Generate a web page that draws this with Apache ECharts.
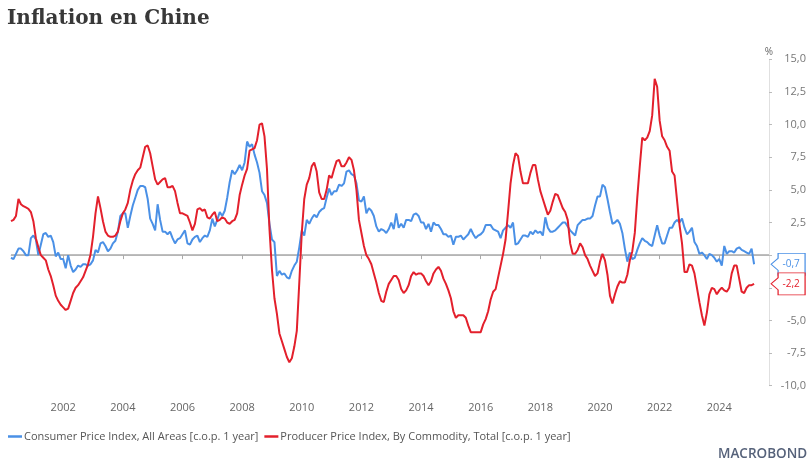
<!DOCTYPE html>
<html>
<head>
<meta charset="utf-8">
<script src="https://cdn.jsdelivr.net/npm/echarts@6/dist/echarts.min.js"></script>
<style>
  html, body { margin: 0; padding: 0; background: #fff; }
  #chart { width: 810px; height: 467px; }
</style>
</head>
<body>
<div id="chart"></div>
<script>
// first month of the series and the last month shown on the axis
var startYear = 2000, startMonth = 3;
var endYear = 2025, endMonth = 8;

// Consumer Price Index, All Areas, y/y %, monthly from 2000-03
var cpi = [
  -0.2, -0.3, 0.1, 0.5, 0.5, 0.3, 0.0, 0.0, 1.3, 1.5,            // 2000
  1.2, 0.0, 0.8, 1.6, 1.7, 1.4, 1.5, 1.0, -0.1, 0.2, -0.3, -0.3, // 2001
  -1.0, 0.0, -0.8, -1.3, -1.1, -0.8, -0.9, -0.7, -0.7, -0.8, -0.7, -0.4, // 2002
  0.4, 0.2, 0.9, 1.0, 0.7, 0.3, 0.5, 0.9, 1.1, 1.8, 3.0, 3.2,     // 2003
  3.2, 2.1, 3.0, 3.8, 4.4, 5.0, 5.3, 5.3, 5.2, 4.3, 2.8, 2.4,     // 2004
  1.9, 3.9, 2.7, 1.8, 1.8, 1.6, 1.8, 1.3, 0.9, 1.2, 1.3, 1.6,     // 2005
  1.9, 0.9, 0.8, 1.2, 1.4, 1.5, 1.0, 1.3, 1.5, 1.4, 1.9, 2.8,     // 2006
  2.2, 2.7, 3.3, 3.0, 3.4, 4.4, 5.6, 6.5, 6.2, 6.5, 6.9, 6.5,     // 2007
  7.1, 8.7, 8.3, 8.5, 7.7, 7.1, 6.3, 4.9, 4.6, 4.0, 2.4, 1.2,     // 2008
  1.0, -1.6, -1.2, -1.5, -1.4, -1.7, -1.8, -1.2, -0.8, -0.5, 0.6, 1.9, // 2009
  1.5, 2.7, 2.4, 2.8, 3.1, 2.9, 3.3, 3.5, 3.6, 4.4, 5.1, 4.6,     // 2010
  4.9, 4.9, 5.4, 5.3, 5.5, 6.4, 6.5, 6.2, 6.1, 5.5, 4.2, 4.1,     // 2011
  4.5, 3.2, 3.6, 3.4, 3.0, 2.2, 1.8, 2.0, 1.9, 1.7, 2.0, 2.5,     // 2012
  2.0, 3.2, 2.1, 2.4, 2.1, 2.7, 2.7, 2.6, 3.1, 3.2, 3.0, 2.5,     // 2013
  2.5, 2.0, 2.4, 1.8, 2.5, 2.3, 2.3, 2.0, 1.6, 1.6, 1.4, 1.5,     // 2014
  0.8, 1.4, 1.4, 1.5, 1.2, 1.4, 1.6, 2.0, 1.6, 1.3, 1.5, 1.6,     // 2015
  1.8, 2.3, 2.3, 2.3, 2.0, 1.9, 1.8, 1.3, 1.9, 2.1, 2.3, 2.1,     // 2016
  2.5, 0.8, 0.9, 1.2, 1.5, 1.5, 1.4, 1.8, 1.6, 1.9, 1.7, 1.8,     // 2017
  1.5, 2.9, 2.1, 1.8, 1.8, 1.9, 2.1, 2.3, 2.5, 2.5, 2.2, 1.9,     // 2018
  1.7, 1.5, 2.3, 2.5, 2.7, 2.7, 2.8, 2.8, 3.0, 3.8, 4.5, 4.5,     // 2019
  5.4, 5.2, 4.3, 3.3, 2.4, 2.5, 2.7, 2.4, 1.7, 0.5, -0.5, 0.2,    // 2020
  -0.3, -0.2, 0.4, 0.9, 1.3, 1.1, 1.0, 0.8, 0.7, 1.5, 2.3, 1.5,   // 2021
  0.9, 0.9, 1.5, 2.1, 2.1, 2.5, 2.7, 2.5, 2.8, 2.1, 1.6, 1.8,     // 2022
  2.1, 1.0, 0.7, 0.1, 0.2, 0.0, -0.3, 0.1, 0.0, -0.2, -0.5, -0.3, // 2023
  -0.8, 0.7, 0.1, 0.3, 0.3, 0.2, 0.5, 0.6, 0.4, 0.3, 0.2, 0.1,    // 2024
  0.5, -0.7                                                      // 2025
];

// Producer Price Index, By Commodity, Total, y/y %, monthly from 2000-03
var ppi = [
  2.6, 2.7, 3.0, 4.3, 3.9, 3.75, 3.65, 3.55, 3.3, 2.6,           // 2000
  1.3, 0.6, 0.0, -0.2, -0.4, -1.1, -1.6, -2.3, -3.1, -3.5, -3.8, -4.0, // 2001
  -4.2, -4.1, -3.5, -2.9, -2.5, -2.3, -2.0, -1.7, -1.2, -0.7, 0.05, 1.4, // 2002
  3.2, 4.5, 3.6, 2.6, 1.8, 1.5, 1.4, 1.4, 1.5, 1.8, 2.6, 3.2,     // 2003
  3.5, 4.0, 5.0, 5.7, 6.2, 6.5, 6.7, 7.5, 8.3, 8.4, 7.8, 6.8,     // 2004
  5.8, 5.4, 5.6, 5.8, 5.9, 5.2, 5.2, 5.3, 4.9, 4.0, 3.2, 3.2,     // 2005
  3.1, 3.0, 2.5, 1.9, 2.4, 3.5, 3.6, 3.4, 3.5, 2.9, 2.8, 3.1,     // 2006
  3.3, 2.6, 2.7, 2.9, 2.8, 2.5, 2.4, 2.6, 2.7, 3.2, 4.6, 5.4,     // 2007
  6.1, 6.6, 8.0, 8.1, 8.2, 8.8, 10.0, 10.1, 9.1, 6.6, 2.0, -1.1,  // 2008
  -3.3, -4.5, -6.0, -6.6, -7.2, -7.8, -8.2, -7.9, -7.0, -5.8, -2.1, 1.7, // 2009
  4.3, 5.4, 5.9, 6.8, 7.1, 6.4, 4.8, 4.3, 4.3, 5.0, 6.1, 5.9,     // 2010
  6.6, 7.2, 7.3, 6.8, 6.8, 7.1, 7.5, 7.3, 6.5, 5.0, 2.7, 1.7,     // 2011
  0.7, 0.0, -0.3, -0.7, -1.4, -2.1, -2.9, -3.5, -3.6, -2.8, -2.2, -1.9, // 2012
  -1.6, -1.6, -1.9, -2.6, -2.9, -2.7, -2.3, -1.6, -1.3, -1.5, -1.4, -1.4, // 2013
  -1.6, -2.0, -2.3, -2.0, -1.4, -1.1, -0.9, -1.2, -1.8, -2.2, -2.7, -3.3, // 2014
  -4.3, -4.8, -4.6, -4.6, -4.6, -4.8, -5.4, -5.9, -5.9, -5.9, -5.9, -5.9, // 2015
  -5.3, -4.9, -4.3, -3.4, -2.8, -2.6, -1.7, -0.8, 0.1, 1.2, 3.3, 5.5,     // 2016
  6.9, 7.8, 7.6, 6.4, 5.5, 5.5, 5.5, 6.3, 6.9, 6.9, 5.8, 4.9,     // 2017
  4.3, 3.7, 3.1, 3.4, 4.1, 4.7, 4.6, 4.1, 3.6, 3.3, 2.7, 0.9,     // 2018
  0.1, 0.1, 0.4, 0.9, 0.6, 0.0, -0.3, -0.8, -1.2, -1.6, -1.4, -0.5, // 2019
  0.1, -0.4, -1.5, -3.1, -3.7, -3.0, -2.4, -2.0, -2.1, -2.1, -1.5, -0.4, // 2020
  0.3, 1.7, 4.4, 6.8, 9.0, 8.8, 9.0, 9.5, 10.7, 13.5, 12.9, 10.3,  // 2021
  9.1, 8.8, 8.3, 8.0, 6.4, 6.1, 4.2, 2.3, 0.9, -1.3, -1.3, -0.7,   // 2022
  -0.8, -1.4, -2.5, -3.6, -4.6, -5.4, -4.4, -3.0, -2.5, -2.6, -3.0, -2.7, // 2023
  -2.5, -2.7, -2.8, -2.5, -1.4, -0.8, -0.8, -1.8, -2.8, -2.9, -2.5, -2.3, // 2024
  -2.3, -2.2                                                      // 2025
];

var labelYears = [2002, 2004, 2006, 2008, 2010, 2012, 2014, 2016, 2018, 2020, 2022, 2024];
var hiddenYLabels = [0, -2.5]; // covered by the last-value boxes

var cpiName = 'Consumer Price Index, All Areas [c.o.p. 1 year]';
var ppiName = 'Producer Price Index, By Commodity, Total [c.o.p. 1 year]';
var blue = '#4a90e6', red = '#e3202c';

// month categories; a point sits at the end of its month,
// so the December category marks 1 January of the next year
var months = [];
for (var y = startYear, m = startMonth; y < endYear || (y == endYear && m <= endMonth); m++) {
  if (m > 12) { m = 1; y++; }
  if (y == endYear && m > endMonth) break;
  months.push(y + '-' + (m < 10 ? '0' + m : m));
}

function isYearTick(index, value) {
  if (value.slice(5) != '12') return false;
  return labelYears.indexOf(+value.slice(0, 4) + 1) >= 0;
}

function fmt(v) {
  return v.toFixed(1).replace('.', ',');
}

function lastPoint(arr, color) {
  var i = arr.length - 1;
  return {
    symbol: 'path://M0,11L7,5L7,0L34,0L34,22L7,22L7,17Z',
    symbolSize: [34, 22],
    symbolOffset: [34, 0],
    itemStyle: { color: '#fff', borderColor: color, borderWidth: 1 },
    label: {
      show: true, position: 'inside', offset: [3, 0],
      color: color, fontSize: 10, fontFamily: 'Open Sans',
      formatter: function() { return fmt(arr[i]); }
    },
    data: [{ coord: [months[i], arr[i]] }]
  };
}

var chart = echarts.init(document.getElementById('chart'));

chart.setOption({
  animation: false,
  title: {
    text: 'Inflation en Chine',
    left: 2, top: 4,
    textStyle: { fontFamily: 'DejaVu Serif', fontWeight: 'bold', fontSize: 20, color: '#383838' }
  },
  legend: {
    left: 3, top: 426,
    icon: 'rect', itemWidth: 14, itemHeight: 2.5, itemGap: 6,
    textStyle: { color: '#555', fontSize: 11, fontFamily: 'Open Sans', padding: [0, 0, 0, -3] },
    data: [cpiName, ppiName]
  },
  grid: { left: 11, right: 41, top: 59.3, bottom: 81.3 },
  xAxis: {
    type: 'category',
    data: months,
    boundaryGap: false,
    offset: 8,
    axisLine: { lineStyle: { color: '#dcdcdc' } },
    axisTick: { interval: isYearTick, length: 4, lineStyle: { color: '#aaa' } },
    axisLabel: {
      interval: isYearTick, margin: 9,
      color: '#666', fontSize: 11, fontFamily: 'Open Sans',
      formatter: function(v) { return String(+v.slice(0, 4) + 1); }
    }
  },
  yAxis: {
    type: 'value',
    position: 'right',
    min: -10, max: 15, interval: 2.5,
    name: '%', nameLocation: 'end', nameGap: 2,
    nameTextStyle: { color: '#666', fontSize: 10, fontFamily: 'Open Sans', align: 'center' },
    splitLine: { show: false },
    axisLine: { show: true, lineStyle: { color: '#e0e0e0' } },
    axisTick: { show: true, length: 3, lineStyle: { color: '#bbb' } },
    axisLabel: {
      align: 'right', margin: 37,
      color: '#777', fontSize: 11, fontFamily: 'Open Sans',
      formatter: function(v) { return hiddenYLabels.indexOf(v) >= 0 ? '' : fmt(v); }
    }
  },
  graphic: [{
    type: 'text', left: 718, top: 447,
    style: { text: 'MACROBOND', fill: '#56627a', font: '600 13.5px "Open Sans"' }
  }],
  series: [{
    name: cpiName,
    type: 'line',
    data: cpi,
    showSymbol: false,
    color: blue,
    lineStyle: { width: 2, color: blue },
    markLine: {
      silent: true, symbol: 'none', z: 1,
      label: { show: false },
      lineStyle: { color: '#a8a8a8', width: 1.5, type: 'solid' },
      data: [{ yAxis: 0 }]
    },
    markPoint: lastPoint(cpi, blue)
  }, {
    name: ppiName,
    type: 'line',
    data: ppi,
    showSymbol: false,
    color: red,
    lineStyle: { width: 2, color: red },
    markPoint: lastPoint(ppi, red)
  }]
});
</script>
</body>
</html>
